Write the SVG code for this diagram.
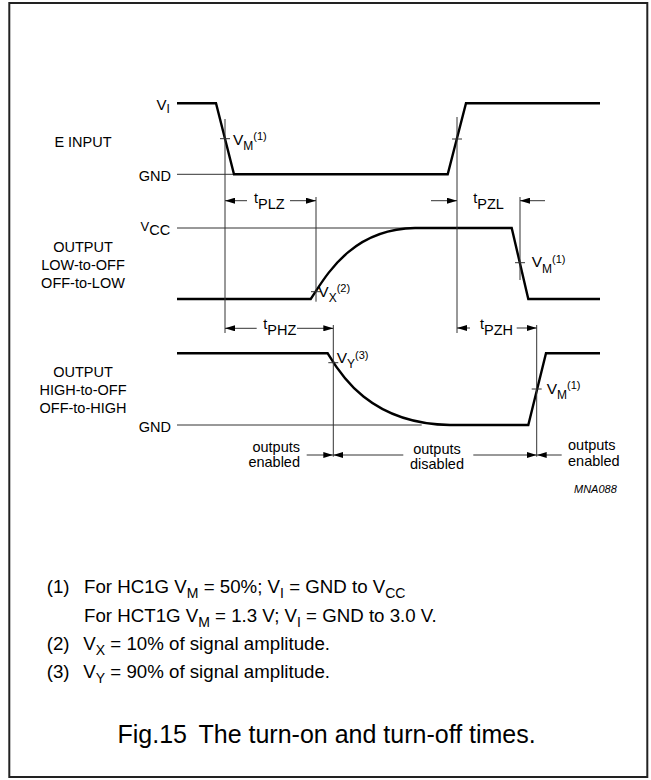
<svg xmlns="http://www.w3.org/2000/svg" width="651" height="780" viewBox="0 0 651 780">
<defs>
<style>
text{font-family:"Liberation Sans",Arial,sans-serif;fill:#000}
.lbl{font-size:14.5px}
.c{text-anchor:middle}
.e{text-anchor:end}
.wave{fill:none;stroke:#000;stroke-width:2.4;stroke-linejoin:miter}
.thin{fill:none;stroke:#333;stroke-width:1}
.dim{fill:none;stroke:#333;stroke-width:1;marker-end:url(#arr)}
.note{font-size:18.7px}
.ns{font-size:14px}
</style>
<marker id="arr" viewBox="0 0 10 6" refX="10" refY="3" markerWidth="10" markerHeight="6" markerUnits="userSpaceOnUse" orient="auto">
<path d="M0,0 L10,3 L0,6 Z" fill="#000"/>
</marker>
</defs>
<rect x="0" y="0" width="651" height="780" fill="#fff"/>
<rect id="frame" x="9.3" y="3" width="638" height="774" fill="none" stroke="#222" stroke-width="2"/>

<g id="e-input">
<text class="lbl c" x="83" y="146.5">E INPUT</text>
<text x="156.5" y="110" font-size="15">V<tspan font-size="12" dy="3.3">I</tspan></text>
<text class="lbl e" x="171" y="180.5">GND</text>
<line class="thin" x1="177" y1="174.3" x2="234" y2="174.3"/>
<polyline class="wave" points="177,103.3 216,103.3 234,174.3 447.7,174.3 466,103.3 600,103.3"/>
</g>

<g id="output-low">
<text class="lbl c" x="83" y="251.7">OUTPUT</text>
<text class="lbl c" x="83" y="270">LOW-to-OFF</text>
<text class="lbl c" x="83" y="287.7">OFF-to-LOW</text>
<text x="140.5" y="230.5" font-size="13">V<tspan font-size="14.5" dy="4.5">CC</tspan></text>
<line class="thin" x1="177" y1="228" x2="410" y2="228"/>
<path class="wave" d="M177,299 L310.7,299 C325,278 350,229 415,228 L511.7,228 L528.3,299 L600,299"/>
</g>

<g id="output-high">
<text class="lbl c" x="83" y="376.7">OUTPUT</text>
<text class="lbl c" x="83" y="394.5">HIGH-to-OFF</text>
<text class="lbl c" x="83" y="412.5">OFF-to-HIGH</text>
<text class="lbl e" x="171" y="431.7">GND</text>
<line class="thin" x1="177" y1="425" x2="421.7" y2="425"/>
<path class="wave" d="M177,353.3 L327.7,353.3 C340,374 370,424 450,425 L528.3,425 L546,353.3 L600,353.3"/>
</g>

<g id="connectors">
<!-- vertical reference lines -->
<line class="thin" x1="225" y1="119" x2="225" y2="333"/>
<line class="thin" x1="316" y1="197" x2="316" y2="301.7"/>
<line class="thin" x1="457" y1="117" x2="457" y2="333"/>
<line class="thin" x1="520" y1="197" x2="520" y2="280"/>
<line class="thin" x1="333.3" y1="325" x2="333.3" y2="456.7"/>
<line class="thin" x1="536.7" y1="325" x2="536.7" y2="456.7"/>
<!-- ticks -->
<line class="thin" x1="220" y1="138.7" x2="230" y2="138.7"/>
<line class="thin" x1="452" y1="139" x2="462" y2="139"/>
<line class="thin" x1="311" y1="291.7" x2="321" y2="291.7"/>
<line class="thin" x1="515" y1="262.7" x2="525" y2="262.7"/>
<line class="thin" x1="328.3" y1="362.7" x2="338.3" y2="362.7"/>
<line class="thin" x1="531.7" y1="389" x2="541.7" y2="389"/>
<!-- tPLZ -->
<line class="dim" x1="247" y1="200.7" x2="225" y2="200.7"/>
<line class="dim" x1="290" y1="200.7" x2="316" y2="200.7"/>
<!-- tPZL -->
<line class="dim" x1="431" y1="200.7" x2="457" y2="200.7"/>
<line class="dim" x1="545" y1="200.7" x2="520" y2="200.7"/>
<!-- tPHZ -->
<line class="dim" x1="256.7" y1="328.3" x2="225" y2="328.3"/>
<line class="dim" x1="297" y1="328.3" x2="333.3" y2="328.3"/>
<!-- tPZH -->
<line class="dim" x1="470" y1="328" x2="457" y2="328"/>
<line class="dim" x1="516.7" y1="328" x2="536.7" y2="328"/>
<!-- outputs enabled/disabled -->
<line class="dim" x1="306.7" y1="455" x2="333.3" y2="455"/>
<line class="dim" x1="403.3" y1="455" x2="333.3" y2="455"/>
<line class="dim" x1="473.3" y1="455" x2="536.7" y2="455"/>
<line class="dim" x1="561.7" y1="455" x2="536.7" y2="455"/>
</g>

<g id="labels">
<text class="lbl" x="254" y="202.5">t<tspan dy="6">PLZ</tspan></text>
<text class="lbl" x="473.3" y="202.5">t<tspan dy="6">PZL</tspan></text>
<text class="lbl" x="263.3" y="329">t<tspan dy="6">PHZ</tspan></text>
<text class="lbl" x="480" y="329">t<tspan dy="6">PZH</tspan></text>
<text x="233" y="145" font-size="15.5">V<tspan font-size="12" dy="5">M</tspan><tspan font-size="11" dy="-10">(1)</tspan></text>
<text x="318.3" y="296.7" font-size="15.5">V<tspan font-size="12" dy="5">X</tspan><tspan font-size="11" dy="-9.7">(2)</tspan></text>
<text x="336.7" y="363.3" font-size="15.5">V<tspan font-size="12" dy="5">Y</tspan><tspan font-size="11" dy="-9.7">(3)</tspan></text>
<text x="531.7" y="267" font-size="15.5">V<tspan font-size="12" dy="5.5">M</tspan><tspan font-size="11" dy="-10">(1)</tspan></text>
<text x="546.7" y="393.5" font-size="15.5">V<tspan font-size="12" dy="5">M</tspan><tspan font-size="11" dy="-10">(1)</tspan></text>
<text class="lbl e" x="300" y="451.7">outputs</text>
<text class="lbl e" x="300" y="467.3">enabled</text>
<text class="lbl c" x="437" y="453.5">outputs</text>
<text class="lbl c" x="437" y="469.3">disabled</text>
<text class="lbl" x="568" y="450">outputs</text>
<text class="lbl" x="568" y="465.7">enabled</text>
<text x="574" y="492.7" font-size="11" font-style="italic" fill="#222">MNA088</text>
</g>

<g id="notes">
<text class="note" x="46.7" y="593.3">(1)</text>
<text class="note" x="84" y="593.3">For HC1G V<tspan class="ns" dy="5">M</tspan><tspan dy="-5"> = 50%; V</tspan><tspan class="ns" dy="5">I</tspan><tspan dy="-5"> = GND to V</tspan><tspan class="ns" dy="5">CC</tspan></text>
<text class="note" x="84" y="621.7">For HCT1G V<tspan class="ns" dy="5">M</tspan><tspan dy="-5"> = 1.3 V; V</tspan><tspan class="ns" dy="5">I</tspan><tspan dy="-5"> = GND to 3.0 V.</tspan></text>
<text class="note" x="46.7" y="650.3">(2)</text>
<text class="note" x="83.3" y="650.3">V<tspan class="ns" dy="5">X</tspan><tspan dy="-5"> = 10% of signal amplitude.</tspan></text>
<text class="note" x="46.7" y="678.3">(3)</text>
<text class="note" x="83.3" y="678.3">V<tspan class="ns" dy="5">Y</tspan><tspan dy="-5"> = 90% of signal amplitude.</tspan></text>
</g>

<g id="caption">
<text x="117.5" y="742.7" font-size="25">Fig.15</text>
<text x="198.5" y="742.7" font-size="25">The turn-on and turn-off times.</text>
</g>
</svg>
